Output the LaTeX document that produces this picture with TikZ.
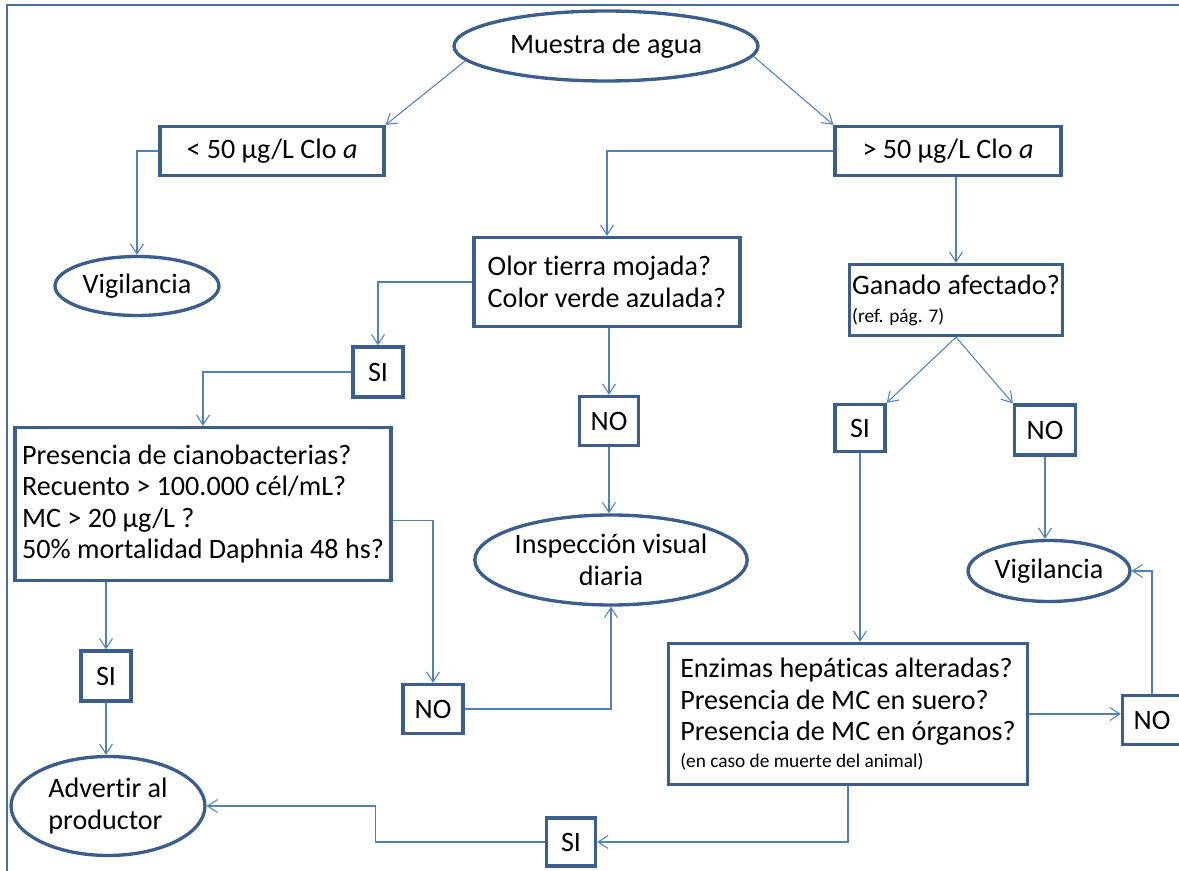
\documentclass[tikz,border=0pt]{standalone}
\usepackage{fontspec}
\setmainfont{Carlito}[Ligatures=NoCommon]
\usepackage{xcolor}
\usetikzlibrary{arrows.meta, positioning, shapes.geometric}

\definecolor{boxblue}{HTML}{3B5E8F}
\definecolor{lineblue}{HTML}{4F81BD}
\definecolor{frameblue}{HTML}{4A6C9B}
\newcommand{\notesize}{\fontsize{11}{12}\selectfont}

\begin{document}
\begin{tikzpicture}[
  x=0.02cm, y=-0.02cm,
  font=\fontsize{16}{18}\selectfont,
  box/.style={draw=boxblue, line width=1.9pt, align=left, inner sep=0pt},
  ans/.style={box, align=center, minimum width=1.0cm, minimum height=1.0cm},
  oval/.style={ellipse, draw=boxblue, line width=1.9pt, align=center, inner sep=0pt},
  arr/.style={draw=lineblue, line width=0.6pt, -{Straight Barb[length=2mm, width=2.6mm]}},
  frame/.style={draw=frameblue, line width=1.1pt}
]
\useasboundingbox (0,0) rectangle (1179,871);
\draw[frame] (7,871) -- (7,5) -- (1185,5);

% top of the tree
\node[oval, minimum width=6.08cm, minimum height=1.4cm] (muestra) at (606,46) {Muestra de agua};
\node[box, align=center, minimum width=4.48cm, minimum height=0.98cm] (lt50) at (272,151) {< 50 µg/L Clo \textit{a}};
\node[box, align=center, minimum width=4.52cm, minimum height=0.98cm] (gt50) at (948,151) {> 50 µg/L Clo \textit{a}};
\node[oval, minimum width=3.28cm, minimum height=1.18cm] (vigil1) at (137,286) {Vigilancia};

% middle branch
\node[box, minimum width=5.32cm, minimum height=1.78cm] (olor) at (607,282) {Olor tierra mojada?\\Color verde azulada?};
\node[ans] (si1) at (378,372) {SI};
\node[ans, minimum width=1.18cm, minimum height=0.98cm] (no1) at (609,421) {NO};
\node[oval, minimum width=4.28cm, minimum height=1.8cm] (insp) at (611,560) {Inspección visual\\diaria};
\node[box, minimum width=7.52cm, minimum height=3.06cm] (cyano) at (203,504)
  {Presencia de cianobacterias?\\Recuento > 100.000 cél/mL?\\MC > 20 µg/L ?\\50\% mortalidad Daphnia 48 hs?};
\node[ans] (si3) at (106,676) {SI};
\node[ans, minimum width=1.2cm, minimum height=0.98cm] (no3) at (433,709) {NO};
\node[oval, align=left, minimum width=3.88cm, minimum height=1.98cm] (adv) at (108,806) {Advertir al\\productor};

% right branch
\node[box, minimum width=4.26cm, minimum height=1.42cm] (ganado) at (956,300) {Ganado afectado?\\[-2pt]{\notesize (ref. pág. 7)}};
\node[ans, minimum height=0.94cm] (si2) at (860,428) {SI};
\node[ans, minimum width=1.22cm] (no2) at (1045,430) {NO};
\node[oval, minimum width=3.24cm, minimum height=1.22cm] (vigil2) at (1049,571) {Vigilancia};
\node[box, minimum width=7.18cm, minimum height=2.82cm] (enz) at (848,714)
  {Enzimas hepáticas alteradas?\\Presencia de MC en suero?\\Presencia de MC en órganos?\\[-3pt]{\notesize (en caso de muerte del animal)}};
\node[ans, minimum width=1.18cm, minimum height=0.98cm] (no4) at (1152,720) {NO};
\node[ans, minimum width=0.98cm, minimum height=0.96cm] (si4) at (571,842) {SI};

% connectors
\draw[arr] (muestra.186) -- (lt50.north east);
\draw[arr] (muestra.356) -- (gt50.north west);
\draw[arr] (lt50.west) -| (vigil1.north);
\draw[arr] (gt50.west) -| (olor.north);
\draw[arr] (gt50.south -| ganado.north) -- (ganado.north);
\draw[arr] (olor.west) -| (si1.north);
\draw[arr] (si1.west) -| (cyano.north);
\draw[arr] (no1.north |- olor.south) -- (no1.north);
\draw[arr] (no1.south) -- (no1.south |- insp.north);
\draw[arr] (ganado.south) -- (si2.north east);
\draw[arr] (ganado.south) -- (no2.north west);
\draw[arr] (no2.south) -- (no2.south |- vigil2.north);
\draw[arr] (si2.south) -- (si2.south |- enz.north);
\draw[arr] (si3.north |- cyano.south) -- (si3.north);
\draw[arr] (si3.south) -- (si3.south |- adv.north);
\draw[arr] (cyano.-5) -| (no3.north);
\draw[arr] (no3.east) -| (insp.south);
\draw[arr] (enz.east) -- (enz.east -| no4.west);
\draw[arr] (no4.north) |- (vigil2.east);
\draw[arr] (enz.south) |- (si4.east);
\draw[arr] (si4.west) -- ++(-169,0) |- (adv.east);
\end{tikzpicture}
\end{document}
